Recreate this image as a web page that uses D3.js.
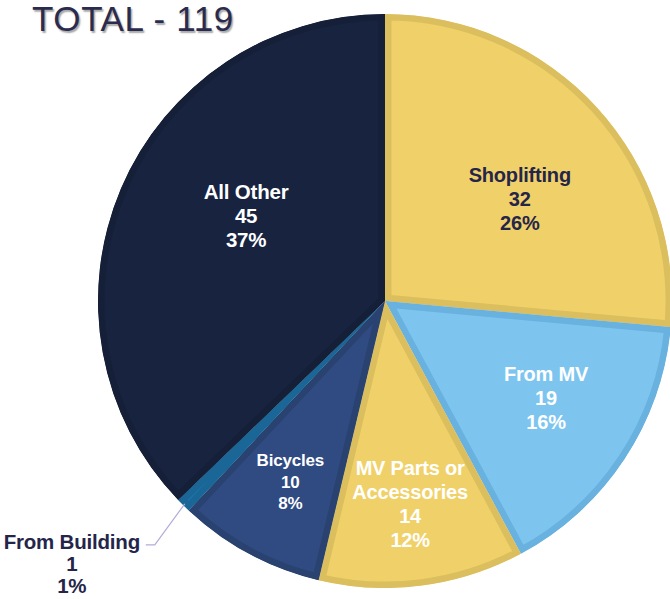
<!DOCTYPE html>
<html>
<head>
<meta charset="utf-8">
<script src="https://cdn.jsdelivr.net/npm/d3@7"></script>
<style>
  html, body { margin: 0; padding: 0; background: #fff; }
  svg { display: block; overflow: hidden; }
</style>
</head>
<body>
<svg id="chart" width="670" height="599"></svg>
<script>
// ---- data ----
const titleText = "TOTAL - 119";
const categories = ["Shoplifting", "From MV", "MV Parts or Accessories", "Bicycles", "From Building", "All Other"];
const labelLines = [["Shoplifting"], ["From MV"], ["MV Parts or", "Accessories"], ["Bicycles"], ["From Building"], ["All Other"]];
const values = [32, 19, 14, 10, 1, 45];
const percents = ["26%", "16%", "12%", "8%", "1%", "37%"];

// ---- styles ----
const fills   = ["#F0D169", "#7DC5EF", "#F0D169", "#2F4B82", "#1C74A8", "#17233F"];
const borders = ["#DBBE5E", "#69B1DE", "#DBBE5E", "#29426F", "#1A6797", "#152038"];
const textColors = ["#25254A", "#FFFFFF", "#FFFFFF", "#FFFFFF", "#25254A", "#FFFFFF"];
const fontSizes = [20, 20, 20, 17, 20.5, 20.5];
const lineHeights = [24, 24, 24, 21.5, 22, 24];
// label placement: [radius px, angle offset deg]
const labelLayout = [[169, 5.3], [188, -2.4], [205, 0.4], [204, -0.6], [0, 0], [163, 8.5]];

const cx = 385, cy = 301, R = 287;

const svg = d3.select("#chart");

// title
svg.append("text")
  .attr("x", 32).attr("y", 31)
  .attr("font-family", "Liberation Sans, Arial, sans-serif")
  .attr("font-size", 35)
  .attr("fill", "#2B2B4D")
  .attr("letter-spacing", 0.6)
  .style("text-shadow", "1.5px 1.5px 1.5px rgba(0,0,0,0.35)")
  .text(titleText);

const data = categories.map((c, i) => ({ name: c, value: values[i], i }));
const pie = d3.pie().sort(null).value(d => d.value).startAngle(0).endAngle(2 * Math.PI);
const arcs = pie(data);
const arc = d3.arc().innerRadius(0).outerRadius(R);

const g = svg.append("g").attr("transform", `translate(${cx},${cy})`);
const defs = svg.append("defs");

arcs.forEach((a, k) => {
  defs.append("clipPath").attr("id", "clip" + k)
    .append("path").attr("d", arc(a));
});

g.selectAll("path.slice")
  .data(arcs)
  .join("path")
  .attr("class", "slice")
  .attr("d", arc)
  .attr("fill", d => fills[d.data.i])
  .attr("stroke", d => borders[d.data.i])
  .attr("stroke-width", 13)
  .attr("stroke-linejoin", "miter")
  .attr("clip-path", (d, k) => `url(#clip${k})`);

// labels
const fontFam = "Liberation Sans, Arial, sans-serif";
arcs.forEach((a, k) => {
  const i = a.data.i;
  const lines = labelLines[i].concat([String(values[i]), percents[i]]);
  const fs = fontSizes[i], lh = lineHeights[i];
  let x, y;
  if (categories[i] === "From Building") {
    const mid = (a.startAngle + a.endAngle) / 2;
    const px = Math.sin(mid) * (R - 2), py = -Math.cos(mid) * (R - 2);
    const ex = px - 30, ey = py + 41;
    const fx = ex - 9;
    g.append("polyline")
      .attr("points", `${px},${py} ${ex},${ey} ${fx},${ey}`)
      .attr("fill", "none")
      .attr("stroke", "#B3ACDA")
      .attr("stroke-width", 1.2);
    x = fx - 74; y = ey + 19;
  } else {
    const [rr, off] = labelLayout[i];
    const mid = (a.startAngle + a.endAngle) / 2 + off * Math.PI / 180;
    x = Math.sin(mid) * rr; y = -Math.cos(mid) * rr;
  }
  const t = g.append("text")
    .attr("text-anchor", "middle")
    .attr("font-family", fontFam)
    .attr("font-weight", "bold")
    .attr("font-size", fs)
    .attr("letter-spacing", -0.2)
    .attr("fill", textColors[i]);
  const n = lines.length;
  lines.forEach((ln, j) => {
    t.append("tspan")
      .attr("x", x)
      .attr("y", y + (j - (n - 1) / 2) * lh + fs * 0.35)
      .text(ln);
  });
});
</script>
</body>
</html>
